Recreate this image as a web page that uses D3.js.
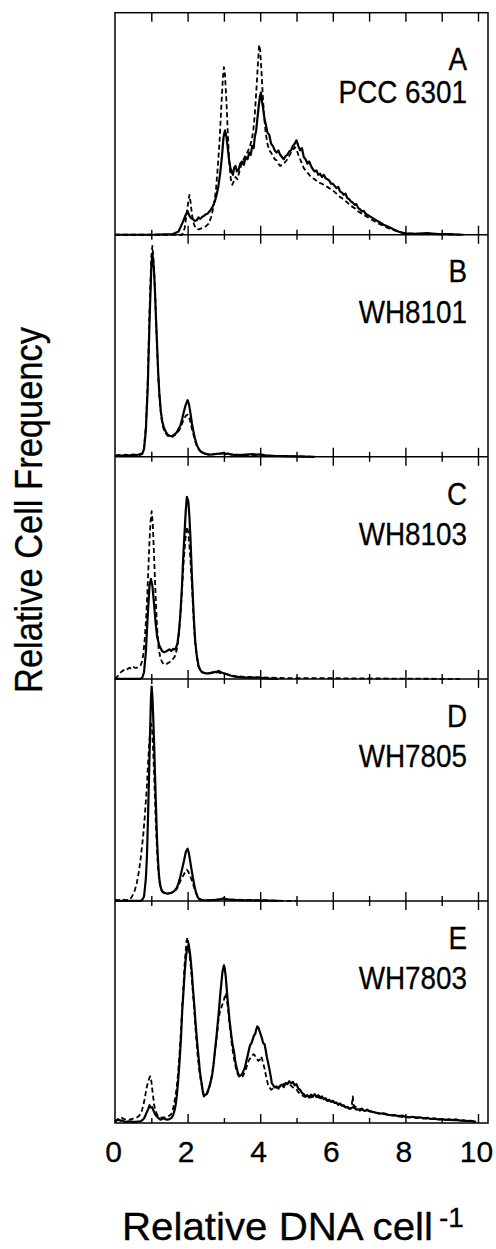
<!DOCTYPE html>
<html><head><meta charset="utf-8">
<script src="https://cdn.jsdelivr.net/npm/d3@7"></script>
<style>html,body{margin:0;padding:0;background:#fff;} svg{display:block;}</style>
</head><body>
<script>
// ---------- data ----------
const panelLetters = ["A", "B", "C", "D", "E"];
const strainNames = ["PCC 6301", "WH8101", "WH8103", "WH7805", "WH7803"];
const xTickLabels = [0, 2, 4, 6, 8, 10];
const xMajorTicks = [2, 4, 6, 8, 10];
const xMinorTicks = [1, 3, 5, 7, 9];
const yAxisTitle = "Relative Cell Frequency";
const xAxisTitle = "Relative DNA cell";
const xAxisTitleSup = "-1";

const solidA = [[0,0],[1.0,0],[1.6,0.3],[1.75,1.5],[1.85,5],[1.95,9],[2.0,10.6],[2.05,8.5],[2.1,7.5],[2.15,7],[2.2,6.2],[2.25,6.5],[2.3,7.8],[2.35,7.2],[2.4,8],[2.45,8.5],[2.5,9.2],[2.55,9.5],[2.6,10.5],[2.65,11.5],[2.7,13],[2.75,15],[2.8,18],[2.85,22],[2.9,28],[2.95,36],[2.99,44],[3.03,47],[3.07,44],[3.1,40],[3.14,34],[3.18,30],[3.22,28],[3.25,27],[3.28,30],[3.32,31],[3.36,28.5],[3.4,29],[3.45,32],[3.5,33],[3.55,31.5],[3.6,35],[3.65,34],[3.7,37],[3.74,36],[3.78,40],[3.82,39],[3.85,44],[3.89,47],[3.92,52],[3.96,58],[3.99,62],[4.02,64],[4.05,60],[4.08,57],[4.12,52],[4.15,50],[4.2,46],[4.25,45],[4.3,41],[4.35,40],[4.4,38],[4.45,37],[4.5,38],[4.55,36],[4.6,35],[4.65,34],[4.7,35.5],[4.75,36],[4.8,37.5],[4.85,38],[4.9,40],[4.95,41],[5.0,42.5],[5.05,40],[5.1,38],[5.15,39],[5.2,35],[5.25,34],[5.3,32],[5.35,33],[5.4,31],[5.45,29.5],[5.5,28.5],[5.55,29],[5.6,27],[5.65,27.5],[5.7,26],[5.75,27],[5.8,25.5],[5.85,25],[5.9,24.5],[5.95,23],[6.0,23],[6.05,22],[6.1,21],[6.15,21.5],[6.2,19.5],[6.25,19],[6.3,18],[6.35,18.5],[6.4,16.5],[6.45,16],[6.5,15],[6.55,14.5],[6.6,13.5],[6.65,13.8],[6.7,12],[6.75,11.5],[6.8,10.5],[6.85,10.8],[6.9,9.5],[6.95,9],[7.0,8.5],[7.1,7.5],[7.2,6.5],[7.3,5.5],[7.4,4.5],[7.5,3.8],[7.6,3],[7.7,2.2],[7.8,1.5],[7.9,1],[8.0,0.6],[8.3,0.4],[8.6,0.7],[8.9,0.3],[9.2,0.3],[9.6,0]];
const dashedA = [[0,0],[1.85,0],[1.92,3],[1.97,9],[2.02,15],[2.05,18],[2.08,15],[2.12,9],[2.17,5],[2.22,3],[2.3,2.4],[2.4,3],[2.5,3.8],[2.58,5],[2.65,8],[2.72,13],[2.78,20],[2.83,30],[2.88,42],[2.93,58],[2.97,70],[3.0,75.5],[3.03,72],[3.07,60],[3.11,45],[3.15,32],[3.19,25],[3.23,22.5],[3.27,24],[3.32,26],[3.37,25],[3.42,28],[3.47,31],[3.52,33],[3.57,35],[3.62,36],[3.67,38],[3.72,40],[3.77,43],[3.81,47],[3.85,54],[3.89,64],[3.93,75],[3.97,85.5],[4.0,83],[4.03,75],[4.07,63],[4.11,53],[4.15,46],[4.2,41],[4.25,38],[4.3,37],[4.35,35.5],[4.4,34],[4.45,33.5],[4.5,32],[4.55,31],[4.6,31.5],[4.65,32],[4.7,33],[4.75,34],[4.8,35.5],[4.85,37],[4.9,38],[4.95,39.5],[5.0,38.5],[5.05,36],[5.1,34],[5.15,32],[5.2,30],[5.25,29],[5.3,28],[5.35,27],[5.4,26],[5.5,25],[5.6,23.5],[5.7,23],[5.8,22],[5.9,21],[6.0,20],[6.1,18.5],[6.2,17],[6.3,16],[6.4,14.5],[6.5,13],[6.6,12],[6.7,10.5],[6.8,9.5],[6.9,8.5],[7.0,7.5],[7.1,6.5],[7.2,5.5],[7.3,4.8],[7.4,4],[7.5,3.2],[7.6,2.5],[7.7,2],[7.8,1.5],[7.9,1],[8.0,0.5],[8.5,0.5],[9.0,0.3],[9.5,0]];

const solidB = [[0,0.5],[0.1,0.8],[0.2,0.5],[0.3,0.9],[0.4,0.6],[0.5,1],[0.6,0.8],[0.7,1.2],[0.75,1.5],[0.8,3.5],[0.85,12],[0.9,30],[0.95,60],[1.0,85],[1.03,91.5],[1.07,85],[1.1,75],[1.13,62],[1.16,50],[1.19,38],[1.22,29],[1.26,21],[1.3,16],[1.35,13],[1.4,11.3],[1.45,10],[1.5,9.5],[1.55,9.3],[1.6,9.6],[1.65,10.2],[1.7,11],[1.75,12.5],[1.8,14],[1.85,17],[1.9,20.5],[1.95,23.5],[2.0,25.5],[2.04,23.5],[2.08,19.5],[2.12,15],[2.16,11.5],[2.2,8.5],[2.25,5.5],[2.3,3.8],[2.35,2.6],[2.4,2],[2.5,1.3],[2.6,1],[2.7,1.1],[2.8,1.3],[2.9,1.4],[3.0,1.8],[3.05,1.2],[3.1,1.5],[3.2,1],[3.3,0.9],[3.4,0.8],[3.5,0.9],[3.6,1],[3.7,1.1],[3.8,1.2],[3.9,1],[4.0,1.1],[4.1,0.8],[4.2,0.6],[4.4,0.4],[4.6,0.3],[5.0,0.2],[5.5,0]];
const dashedB = [[0,0.4],[0.2,0.6],[0.4,0.5],[0.6,0.7],[0.7,0.9],[0.75,1.3],[0.8,4],[0.85,14],[0.9,33],[0.95,65],[1.0,90],[1.03,95],[1.07,87],[1.1,76],[1.13,62],[1.16,49],[1.19,37],[1.22,28],[1.26,20],[1.3,15],[1.35,12],[1.4,10.5],[1.45,9.5],[1.5,9],[1.55,8.8],[1.6,9.2],[1.65,9.8],[1.7,10.5],[1.75,11.5],[1.8,13],[1.85,15],[1.9,17],[1.95,18.5],[2.0,19],[2.04,18],[2.08,15.5],[2.12,12.5],[2.16,10],[2.2,7.5],[2.25,5],[2.3,3.5],[2.35,2.5],[2.4,2],[2.5,1.3],[2.6,1],[2.8,1.3],[3.0,1.6],[3.2,1.2],[3.5,0.8],[4.0,0.8],[4.5,0.3],[5,0.2],[5.5,0]];

const solidC = [[0,0],[0.7,0],[0.75,0.5],[0.8,3],[0.85,12],[0.9,28],[0.95,42],[0.99,45],[1.03,42],[1.08,33],[1.12,25],[1.16,19],[1.22,15],[1.3,12.5],[1.35,12],[1.4,12.3],[1.45,12.8],[1.5,13.3],[1.55,12.6],[1.6,13.5],[1.65,13.2],[1.68,14],[1.72,16],[1.76,21],[1.8,29],[1.84,40],[1.88,55],[1.92,67],[1.95,76],[1.98,82],[2.02,80],[2.05,73],[2.08,63],[2.12,46],[2.15,35],[2.18,25],[2.21,17],[2.25,11],[2.3,6],[2.35,4],[2.4,3],[2.5,2.5],[2.6,2.5],[2.7,2.8],[2.75,3.2],[2.8,2.9],[2.85,3.6],[2.9,3.2],[2.95,2.8],[3.0,2.5],[3.1,2],[3.2,1.4],[3.3,1],[3.5,0.7],[3.8,0.6],[4.0,0.5],[4.2,0.2],[4.5,0]];
const dashedC = [[0,0],[0.05,0.8],[0.1,1.8],[0.15,2.8],[0.2,3.5],[0.25,4],[0.3,3.8],[0.35,4.5],[0.4,5],[0.45,4.6],[0.5,5.5],[0.55,5],[0.6,5],[0.65,5.5],[0.7,6],[0.74,7.5],[0.78,11],[0.82,18],[0.86,28],[0.89,38],[0.92,50],[0.95,62],[0.98,71],[1.01,75.5],[1.04,70],[1.07,58],[1.1,45],[1.13,33],[1.16,23],[1.2,14],[1.25,9.5],[1.3,7.5],[1.35,6.5],[1.4,6.5],[1.45,7],[1.5,7.5],[1.55,8],[1.6,9],[1.65,10.2],[1.7,13],[1.74,17],[1.78,24],[1.82,33],[1.86,44],[1.9,55],[1.94,63],[1.98,68.5],[2.02,66],[2.05,60],[2.08,53],[2.12,42],[2.15,32],[2.18,23],[2.21,16],[2.25,10],[2.3,5.5],[2.35,3.8],[2.4,3],[2.5,2.5],[2.6,2.6],[2.7,3],[2.8,3.3],[2.9,2.6],[3.0,2.5],[3.1,2],[3.2,1.5],[3.4,1.1],[3.6,0.9],[3.8,0.8],[4.0,0.7],[4.5,0.4],[5,0.3],[6,0.3],[7,0.2],[8,0.1],[9.5,0]];

const solidD = [[0,0],[0.7,0],[0.75,0.5],[0.8,2],[0.85,10],[0.88,20],[0.91,38],[0.94,58],[0.97,78],[0.99,91],[1.01,96.5],[1.03,92],[1.05,84],[1.08,70],[1.1,58],[1.13,42],[1.16,27],[1.19,17],[1.22,10],[1.26,6],[1.3,4.2],[1.35,3.6],[1.4,3.5],[1.45,3.2],[1.5,3.5],[1.55,3.7],[1.6,4],[1.65,4.8],[1.7,5.8],[1.75,8],[1.8,11],[1.85,14.5],[1.9,18],[1.95,22],[2.0,23.5],[2.03,22],[2.06,19],[2.1,15],[2.14,11],[2.18,7.5],[2.22,4.5],[2.27,2],[2.32,0.8],[2.4,0.3],[2.6,0.3],[2.8,0.5],[2.9,0.7],[3.0,1.2],[3.05,0.8],[3.1,0.7],[3.2,0.5],[3.5,0.3],[4,0.2],[4.5,0]];
const dashedD = [[0,0.5],[0.1,0.4],[0.2,0.6],[0.3,0.4],[0.4,0.6],[0.45,1.5],[0.5,3],[0.55,5],[0.6,8],[0.65,12.5],[0.7,18],[0.74,24],[0.78,30],[0.82,38],[0.85,45],[0.88,52],[0.91,62],[0.94,70],[0.97,77],[0.99,80],[1.02,78],[1.05,68],[1.08,56],[1.1,46],[1.13,33],[1.16,22],[1.19,14],[1.23,8],[1.28,5],[1.33,4],[1.4,3.5],[1.5,3.4],[1.6,3.9],[1.7,5.3],[1.75,7],[1.8,9],[1.85,10.5],[1.9,12],[1.95,13.5],[1.98,14],[2.02,13.2],[2.06,11.5],[2.1,10],[2.15,7.5],[2.2,5],[2.25,2.8],[2.3,1.2],[2.4,0.4],[2.6,0.3],[2.8,0.6],[2.9,0.8],[3.0,1.2],[3.1,0.8],[3.2,0.7],[3.5,0.5],[3.8,0.4],[4.2,0.3],[4.5,0.1],[5,0]];

const solidE = [[0,0.5],[0.05,1.2],[0.1,1.5],[0.15,1],[0.2,1.2],[0.25,0.6],[0.3,0.5],[0.4,0.7],[0.5,0.5],[0.6,0.6],[0.7,0.8],[0.75,1.2],[0.8,2],[0.84,3.5],[0.88,5],[0.92,6.5],[0.95,8],[0.98,7],[1.02,7.2],[1.05,6],[1.08,5],[1.1,4],[1.15,3],[1.2,2.2],[1.25,1.5],[1.3,1.8],[1.35,2.1],[1.4,1.6],[1.45,1.5],[1.5,1.8],[1.55,2.2],[1.6,3.5],[1.63,5],[1.67,8],[1.7,12],[1.74,19],[1.78,28],[1.82,39],[1.85,50],[1.89,60],[1.92,68],[1.95,74],[1.98,78],[2.03,80.5],[2.06,77],[2.08,74.5],[2.12,67],[2.15,60],[2.19,52],[2.22,45],[2.26,37],[2.3,30],[2.34,23],[2.38,18.5],[2.42,14],[2.45,12],[2.48,12.5],[2.52,13],[2.56,14.5],[2.6,16.5],[2.64,19],[2.68,22],[2.72,27],[2.75,32],[2.79,38],[2.83,45],[2.87,52],[2.9,58],[2.93,63],[2.96,68],[3.0,71],[3.02,70],[3.05,66],[3.08,60],[3.1,56],[3.13,51],[3.15,47],[3.18,43],[3.2,40],[3.24,35],[3.28,32],[3.31,28],[3.35,25],[3.38,23],[3.42,21],[3.46,21.5],[3.5,22],[3.54,23.5],[3.58,25],[3.62,28],[3.65,30],[3.69,33],[3.72,35],[3.76,36],[3.8,38],[3.83,39.5],[3.86,40],[3.89,42],[3.92,43.5],[3.95,43],[3.98,41.5],[4.01,40],[4.05,38],[4.08,36],[4.12,35.5],[4.15,33],[4.18,30],[4.22,27],[4.25,24.5],[4.29,21],[4.32,18],[4.36,17],[4.4,16],[4.45,16.5],[4.5,15.5],[4.55,16.8],[4.6,17.3],[4.65,16.2],[4.7,18],[4.75,17.5],[4.8,18.8],[4.85,17.8],[4.9,18.5],[4.95,17],[5.0,17.5],[5.05,15.5],[5.1,15],[5.15,13.5],[5.2,13],[5.25,12],[5.3,12.5],[5.35,11.5],[5.4,12.8],[5.45,12],[5.5,13],[5.55,11.8],[5.6,12.5],[5.65,11.5],[5.7,12],[5.75,10.8],[5.8,11.2],[5.85,10],[5.9,10.5],[5.95,9.5],[6.0,10],[6.05,9],[6.1,9.2],[6.15,8.2],[6.2,8.8],[6.25,7.8],[6.3,8],[6.35,7],[6.4,7.3],[6.45,6.4],[6.5,6.6],[6.55,7.2],[6.6,6.8],[6.65,6],[6.7,6.2],[6.75,5.6],[6.8,6.5],[6.85,5.6],[6.9,5.5],[6.95,6],[7.0,5.3],[7.1,5],[7.2,4.6],[7.3,4.2],[7.4,4.4],[7.5,3.8],[7.6,3.5],[7.7,3.6],[7.8,3.1],[7.9,3.3],[8.0,2.9],[8.1,2.6],[8.2,2.8],[8.3,2.3],[8.4,2.6],[8.5,2.1],[8.6,2.3],[8.7,1.8],[8.8,2.1],[8.9,1.6],[9.0,1.8],[9.1,1.4],[9.2,1.7],[9.3,1.3],[9.4,1.6],[9.5,1.1],[9.6,1.2],[9.7,0.9],[9.8,1],[9.9,0.6],[9.95,0.5]];
const dashedE = [[0,0.5],[0.05,1.5],[0.1,2],[0.15,2.5],[0.2,2.3],[0.25,1.8],[0.3,1.5],[0.35,1.6],[0.4,1.5],[0.45,1.8],[0.5,2],[0.55,2.2],[0.6,2.5],[0.65,3],[0.7,4],[0.74,5.5],[0.78,8],[0.82,11],[0.85,14],[0.88,16.5],[0.92,19],[0.95,20.5],[0.97,21],[1.0,19],[1.02,16],[1.05,12],[1.08,8],[1.11,6],[1.15,4],[1.2,3],[1.25,2.5],[1.3,2.4],[1.35,2.5],[1.4,2.6],[1.45,3],[1.5,3.3],[1.55,4],[1.59,5.5],[1.62,8],[1.66,11.5],[1.7,16],[1.74,23],[1.78,32],[1.82,42],[1.85,52],[1.89,63],[1.92,72],[1.95,78],[1.97,82],[2.0,83.5],[2.03,80],[2.05,76],[2.08,72],[2.1,68],[2.14,60],[2.18,52],[2.21,44],[2.25,36],[2.28,30],[2.32,24],[2.36,19.5],[2.4,16],[2.44,13],[2.47,12],[2.51,12.5],[2.55,13.5],[2.58,15],[2.62,17],[2.66,20.5],[2.7,25],[2.74,30],[2.78,36],[2.82,41],[2.85,46.5],[2.89,50],[2.93,52],[2.97,54],[3.0,55.5],[3.05,58.5],[3.08,56],[3.1,53],[3.13,49],[3.15,45],[3.19,40],[3.22,35],[3.26,31],[3.3,27],[3.34,24],[3.38,22],[3.42,21],[3.45,20.5],[3.49,20.8],[3.52,21],[3.56,22.5],[3.6,24],[3.64,26],[3.68,28],[3.72,29],[3.75,30],[3.79,30.5],[3.82,31],[3.85,30.5],[3.88,29.5],[3.92,28.5],[3.95,28],[3.99,28.5],[4.02,30],[4.05,29],[4.08,27],[4.12,24.5],[4.15,22],[4.19,19],[4.22,17],[4.26,16],[4.3,15],[4.35,15.5],[4.4,15.3],[4.45,16],[4.5,16],[4.55,16.5],[4.6,17],[4.65,17.5],[4.7,17.5],[4.75,17.8],[4.8,17],[4.85,16.8],[4.9,16],[4.95,15.8],[5.0,15],[5.05,14],[5.1,13],[5.15,12.5],[5.2,12],[5.3,11.5],[5.4,11.5],[5.5,12],[5.6,11.5],[5.7,11],[5.8,10.5],[5.9,10],[6.0,9.5],[6.1,9],[6.2,8.5],[6.3,7.5],[6.4,7],[6.5,6.5],[6.53,9],[6.55,12],[6.57,8],[6.65,7],[6.8,6],[7.0,5.5],[7.2,4.5],[7.4,4],[7.6,3.5],[7.8,3],[8.0,2.5],[8.3,2.5],[8.6,2],[9.0,1.5],[9.4,1.2],[9.7,1],[9.95,0.5]];

const solidSeries = [solidA, solidB, solidC, solidD, solidE];
const dashedSeries = [dashedA, dashedB, dashedC, dashedD, dashedE];

// ---------- layout ----------
const W = 496, H = 1249;
const FONT = "'Liberation Sans', Arial, Helvetica, sans-serif";
const frameLeft = 115, frameRight = 488, frameTop = 12.7, frameBottom = 1123;
const nP = panelLetters.length;
const pH = (frameBottom - frameTop) / nP;
const letterOffset = [57.3, 47, 48, 48, 48.5];
const nameOffset = [90.6, 88, 88, 88, 88.5];

const svg = d3.select("body").append("svg")
  .attr("width", W).attr("height", H)
  .style("background", "#fff");

const x = d3.scaleLinear().domain([0, 10]).range([115, 478]);

panelLetters.forEach((letter, i) => {
  const top = frameTop + i * pH, bottom = top + pH;
  const y = d3.scaleLinear().domain([0, 100]).range([bottom, top]);
  const line = d3.line().x(d => x(d[0])).y(d => y(d[1]));
  const g = svg.append("g");
  g.append("path").datum(dashedSeries[i]).attr("d", line)
    .attr("fill", "none").attr("stroke", "#000").attr("stroke-width", 1.8)
    .attr("stroke-dasharray", "5,3").attr("stroke-linejoin", "round");
  g.append("path").datum(solidSeries[i]).attr("d", line)
    .attr("fill", "none").attr("stroke", "#000").attr("stroke-width", 2.2)
    .attr("stroke-linejoin", "round");

  // labels
  g.append("text")
    .attr("transform", `translate(467,${top + letterOffset[i]}) scale(0.87,1)`)
    .attr("text-anchor", "end").attr("font-family", FONT).attr("font-size", 32)
    .attr("fill", "#000").attr("stroke", "#000").attr("stroke-width", 0.3)
    .text(letter);
  g.append("text")
    .attr("transform", `translate(467,${top + nameOffset[i]}) scale(0.87,1)`)
    .attr("text-anchor", "end").attr("font-family", FONT).attr("font-size", 32)
    .attr("fill", "#000").attr("stroke", "#000").attr("stroke-width", 0.3)
    .text(strainNames[i]);
});

// frame
const frame = svg.append("g").attr("fill", "none").attr("stroke", "#000").attr("stroke-width", 1.5);
frame.append("rect").attr("x", frameLeft).attr("y", frameTop)
  .attr("width", frameRight - frameLeft).attr("height", frameBottom - frameTop);
d3.range(1, nP).forEach(k => {
  const yy = frameTop + k * pH;
  frame.append("line").attr("x1", frameLeft).attr("x2", frameRight).attr("y1", yy).attr("y2", yy);
});

// ticks via d3 axes
function tickAxis(axisFn, values, size, yy) {
  const a = svg.append("g").attr("transform", `translate(0,${yy})`)
    .call(axisFn(x).tickValues(values).tickSize(size).tickFormat(""));
  a.select(".domain").remove();
  a.selectAll(".tick line").attr("stroke", "#000").attr("stroke-width", 1.4);
  return a;
}
tickAxis(d3.axisBottom, xMajorTicks.concat(xMinorTicks), 9, frameTop);
d3.range(1, nP).forEach(k => {
  const yy = frameTop + k * pH;
  tickAxis(d3.axisBottom, xMajorTicks, 9, yy);
  tickAxis(d3.axisTop, xMajorTicks, 9, yy);
  tickAxis(d3.axisBottom, xMinorTicks, 5, yy);
  tickAxis(d3.axisTop, xMinorTicks, 5, yy);
});
tickAxis(d3.axisTop, xMajorTicks, 9, frameBottom);
tickAxis(d3.axisTop, xMinorTicks, 5, frameBottom);

// bottom tick labels
const lab = svg.append("g").attr("transform", `translate(0,${frameBottom})`)
  .call(d3.axisBottom(x).tickValues(xTickLabels).tickSize(0).tickFormat(d3.format("d")));
lab.select(".domain").remove();
lab.selectAll(".tick text")
  .attr("y", 39).attr("dy", 0).attr("dx", -2)
  .attr("font-family", FONT).attr("font-size", 30).attr("fill", "#000")
  .attr("stroke", "#000").attr("stroke-width", 0.3);

// axis titles
svg.append("text")
  .attr("transform", "translate(41.5,510) rotate(-90)")
  .attr("text-anchor", "middle").attr("font-family", FONT).attr("font-size", 38)
  .attr("textLength", 366).attr("lengthAdjust", "spacingAndGlyphs")
  .attr("fill", "#000").attr("stroke", "#000").attr("stroke-width", 0.3)
  .text(yAxisTitle);

svg.append("text")
  .attr("x", 122).attr("y", 1240)
  .attr("font-family", FONT).attr("font-size", 38)
  .attr("textLength", 311).attr("lengthAdjust", "spacingAndGlyphs")
  .attr("fill", "#000").attr("stroke", "#000").attr("stroke-width", 0.3)
  .text(xAxisTitle);
svg.append("text")
  .attr("x", 439).attr("y", 1227)
  .attr("font-family", FONT).attr("font-size", 28)
  .attr("fill", "#000").attr("stroke", "#000").attr("stroke-width", 0.3)
  .text(xAxisTitleSup);
</script>
</body></html>
